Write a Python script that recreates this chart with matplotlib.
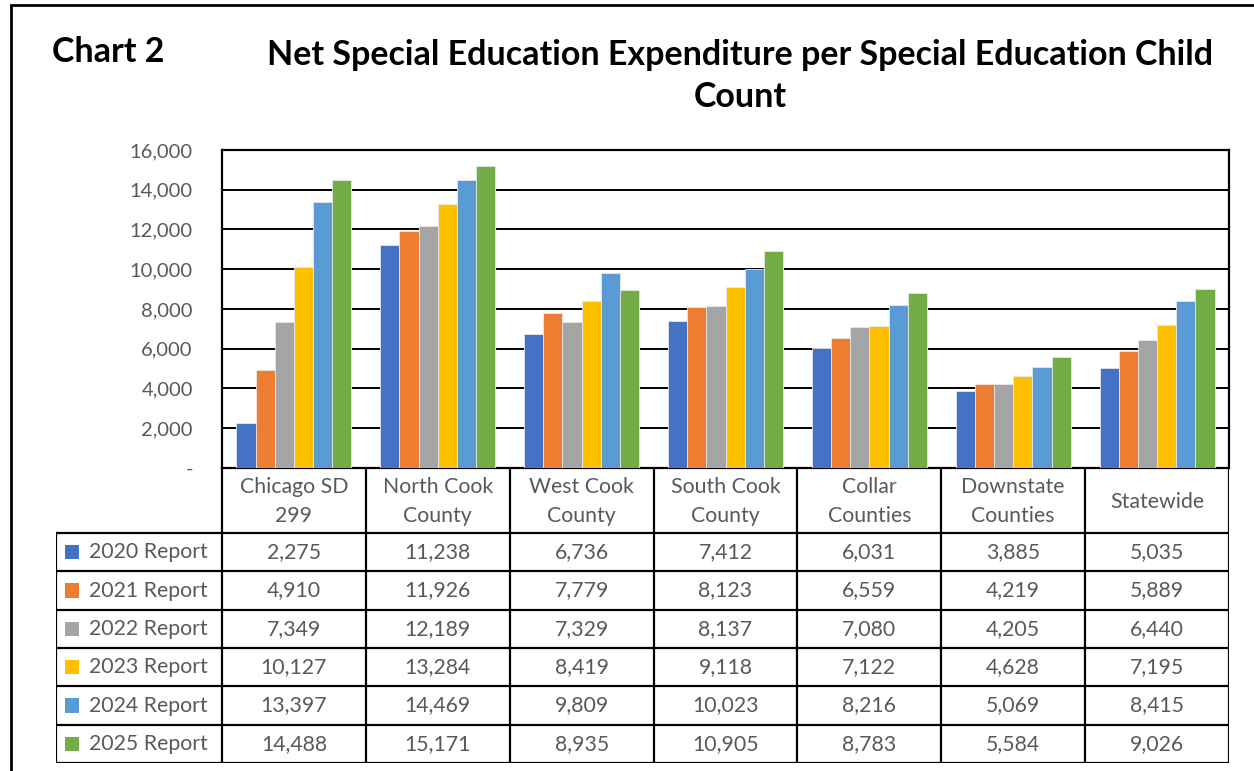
import matplotlib.pyplot as plt
from matplotlib.patches import Rectangle

# regions, series labels and values (from the data table in the chart)
regions = ["Chicago SD\n299", "North Cook\nCounty", "West Cook\nCounty", "South Cook\nCounty",
           "Collar\nCounties", "Downstate\nCounties", "Statewide"]
series = ["2020 Report", "2021 Report", "2022 Report", "2023 Report", "2024 Report", "2025 Report"]
colors = ["#4472C4", "#ED7D31", "#A5A5A5", "#FFC000", "#5B9BD5", "#70AD47"]

r2020 = [2275, 11238, 6736, 7412, 6031, 3885, 5035]
r2021 = [4910, 11926, 7779, 8123, 6559, 4219, 5889]
r2022 = [7349, 12189, 7329, 8137, 7080, 4205, 6440]
r2023 = [10127, 13284, 8419, 9118, 7122, 4628, 7195]
r2024 = [13397, 14469, 9809, 10023, 8216, 5069, 8415]
r2025 = [14488, 15171, 8935, 10905, 8783, 5584, 9026]
values = [r2020, r2021, r2022, r2023, r2024, r2025]

yticks = [0, 2000, 4000, 6000, 8000, 10000, 12000, 14000, 16000]

plt.rcParams['font.family'] = ['Lato', 'DejaVu Sans']
grey = "#595959"
W, H = 1254, 771
fig = plt.figure(figsize=(W / 100, H / 100), dpi=100)

# outer frame
fig.patches.append(Rectangle((11 / W, -0.05), 1.1, 1 - 5 / H + 0.05, transform=fig.transFigure,
                             fill=False, lw=2, ec="black"))

fig.text(52 / W, 1 - 52 / H, "Chart 2", fontsize=24.5, fontweight="bold", va="center")
fig.text(740 / W, 1 - 76 / H, "Net Special Education Expenditure per Special Education Child\nCount",
         fontsize=24.5, fontweight="bold", ha="center", va="center", linespacing=1.4)

# bar chart
ax = fig.add_axes([222 / W, 1 - 468 / H, (1229 - 222) / W, (468 - 150) / H])
n = len(series)
bw = 0.8 / n
for k in range(n):
    xs = [i + 0.1 + bw * (k + 0.5) for i in range(len(regions))]
    ax.bar(xs, values[k], width=bw, color=colors[k], edgecolor="#e8e8e8", lw=0.6, zorder=3)
ax.set_xlim(0, len(regions))
ax.set_ylim(0, 16000)
ax.set_yticks(yticks)
ax.set_yticklabels(["-" if t == 0 else f"{t:,}" for t in yticks], color=grey, fontsize=14.5)
ax.tick_params(axis="y", length=0, pad=21)
ax.set_xticks([])
ax.grid(axis="y", color="black", lw=1.4, zorder=1)
for s in ax.spines.values():
    s.set_linewidth(1.6)

# data table below
tx0 = -166 / 143.86
tax = fig.add_axes([56 / W, 1 - 763 / H, (1229 - 56) / W, (763 - 468) / H])
tax.set_xlim(tx0, len(regions))
hdr = 65 / 38.3
tax.set_ylim(n, -hdr)
tax.axis("off")
lk = dict(color="black", lw=1.6)
for i in range(len(regions) + 1):
    tax.plot([i, i], [-hdr, n], **lk)
tax.plot([tx0, tx0], [0, n], **lk)
for r in range(n + 1):
    tax.plot([tx0, len(regions)], [r, r], **lk)
for i, name in enumerate(regions):
    tax.text(i + 0.5, -hdr / 2 + 0.03, name, ha="center", va="center", color=grey, fontsize=15.3,
             linespacing=1.6)
for k in range(n):
    tax.add_patch(Rectangle((tx0 + 9 / 143.86, k + 0.5 - 0.19), 14 / 143.86, 0.38,
                            color=colors[k], lw=0))
    tax.text(tx0 + 33 / 143.86, k + 0.5, series[k], ha="left", va="center", color=grey,
             fontsize=15.3)
    for i in range(len(regions)):
        tax.text(i + 0.5, k + 0.5, f"{values[k][i]:,}", ha="center", va="center", color=grey,
                 fontsize=15.3)

fig.savefig("out.png", dpi=100)
